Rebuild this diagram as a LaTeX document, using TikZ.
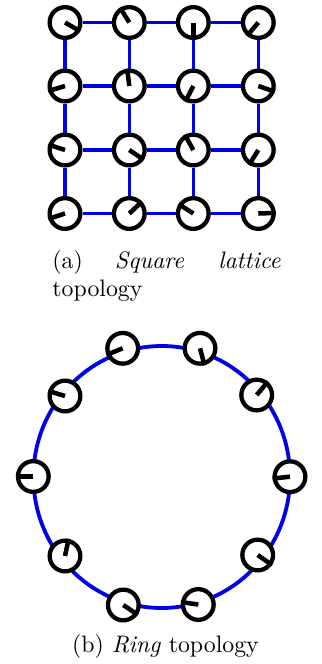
\documentclass[tikz,border=0pt]{standalone}
\usepackage{tikz}
\usetikzlibrary{backgrounds}
\definecolor{LinkBlue}{RGB}{0,0,235}

\begin{document}
\begin{tikzpicture}[
    x=0.42pt, y=-0.42pt,
    spin/.style={circle, draw=black, fill=white, line width=1.8pt, minimum size=12.9pt, inner sep=0pt},
    needle/.style={draw=black, line width=1.9pt},
    link/.style={draw=LinkBlue, line width=1.5pt},
    ring/.style={draw=LinkBlue, line width=1.6pt},
    caption/.style={inner sep=0pt, font=\normalsize}
  ]
    \useasboundingbox (0,0) rectangle (322,664);

    % Square lattice spins
    \node[spin] (s11) at (65,22.5) {};
    \node[spin] (s12) at (129.3,22.5) {};
    \node[spin] (s13) at (193.3,22.5) {};
    \node[spin] (s14) at (258.3,22.5) {};
    \node[spin] (s21) at (65,86) {};
    \node[spin] (s22) at (129.3,86) {};
    \node[spin] (s23) at (193.3,86) {};
    \node[spin] (s24) at (258.3,86) {};
    \node[spin] (s31) at (65,150) {};
    \node[spin] (s32) at (129.3,150) {};
    \node[spin] (s33) at (193.3,150) {};
    \node[spin] (s34) at (258.3,150) {};
    \node[spin] (s41) at (65,213.5) {};
    \node[spin] (s42) at (129.3,213.5) {};
    \node[spin] (s43) at (193.3,213.5) {};
    \node[spin] (s44) at (258.3,213.5) {};

    % Needles
    \draw[needle] (s11.center) -- (s11.-30);
    \draw[needle] (s12.center) -- (s12.122);
    \draw[needle] (s13.center) -- (s13.-90);
    \draw[needle] (s14.center) -- (s14.-130);
    \draw[needle] (s21.center) -- (s21.-163);
    \draw[needle] (s22.center) -- (s22.97);
    \draw[needle] (s23.center) -- (s23.-117);
    \draw[needle] (s24.center) -- (s24.-19);
    \draw[needle] (s31.center) -- (s31.162);
    \draw[needle] (s32.center) -- (s32.-34);
    \draw[needle] (s33.center) -- (s33.119);
    \draw[needle] (s34.center) -- (s34.-122);
    \draw[needle] (s41.center) -- (s41.-162);
    \draw[needle] (s42.center) -- (s42.43);
    \draw[needle] (s43.center) -- (s43.147);
    \draw[needle] (s44.center) -- (s44.2);

    % Lattice bonds
    \begin{scope}[on background layer]
      \draw[link] (s11) -- (s12) -- (s13) -- (s14);
      \draw[link] (s21) -- (s22) -- (s23) -- (s24);
      \draw[link] (s31) -- (s32) -- (s33) -- (s34);
      \draw[link] (s41) -- (s42) -- (s43) -- (s44);
      \draw[link] (s11) -- (s21) -- (s31) -- (s41);
      \draw[link] (s12) -- (s22) -- (s32) -- (s42);
      \draw[link] (s13) -- (s23) -- (s33) -- (s43);
      \draw[link] (s14) -- (s24) -- (s34) -- (s44);
    \end{scope}

    \node[caption, text width=95.8pt, align=justify, anchor=north west] (capa) at (52,250)
      {\hyphenpenalty=10000 \tolerance=10000 \relax
       (a) \textit{Square lattice} topology};

    % Ring spins
    \coordinate (ringc) at (161.7,477);
    \node[spin] (r1) at (290,476.7) {};
    \node[spin] (r2) at (256.7,395) {};
    \node[spin] (r3) at (200,348.3) {};
    \node[spin] (r4) at (122.7,348.3) {};
    \node[spin] (r5) at (65,396) {};
    \node[spin] (r6) at (33.3,476.5) {};
    \node[spin] (r7) at (65,556) {};
    \node[spin] (r8) at (123.3,605) {};
    \node[spin] (r9) at (198.3,604.5) {};
    \node[spin] (r10) at (257.7,555) {};

    % Needles
    \draw[needle] (r1.center) -- (r1.-174);
    \draw[needle] (r2.center) -- (r2.50);
    \draw[needle] (r3.center) -- (r3.-75);
    \draw[needle] (r4.center) -- (r4.-158);
    \draw[needle] (r5.center) -- (r5.163);
    \draw[needle] (r6.center) -- (r6.180);
    \draw[needle] (r7.center) -- (r7.78);
    \draw[needle] (r8.center) -- (r8.-34);
    \draw[needle] (r9.center) -- (r9.172);
    \draw[needle] (r10.center) -- (r10.-35);

    % Ring bond
    \begin{scope}[on background layer]
      \draw[ring] (ringc) ellipse [x radius=128.3, y radius=131];
    \end{scope}

    \node[caption, anchor=base] (capb) at (165.5,652.5) {(b) \textit{Ring} topology};
  \end{tikzpicture}
\end{document}
